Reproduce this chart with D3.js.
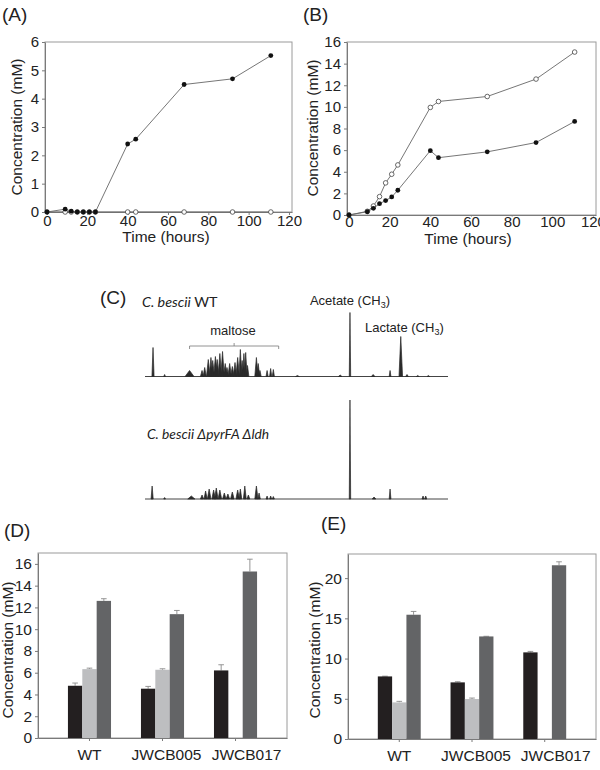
<!DOCTYPE html>
<html>
<head>
<meta charset="utf-8">
<title>C. bescii fermentation</title>
<script src="https://cdn.jsdelivr.net/npm/d3@7"></script>
<style>
body { margin: 0; background: #fff; }
text { font-family: "Liberation Sans", Arial, sans-serif; fill: #222; }
</style>
</head>
<body>
<div id="chart"></div>
<script>
// ---- panels A / B : time course ----
var times = [0, 9, 12, 15, 18, 21, 24, 40, 44, 68, 92, 111];       // hours
var filledA = [0, 0.1, 0.03, 0, 0, 0, 0, 2.4, 2.57, 4.5, 4.7, 5.52];
var openA   = [0, 0, 0, 0, 0, 0, 0, 0, 0, 0, 0, 0];
var filledB = [0, 0.3, 0.62, 1.05, 1.33, 1.67, 2.29, 5.95, 5.3, 5.84, 6.7, 8.65];
var openB   = [0, 0.34, 0.83, 1.7, 2.97, 3.77, 4.63, 9.95, 10.5, 10.96, 12.57, 15.07];
var timeTicks = [0, 20, 40, 60, 80, 100, 120];
var ticksA = [0, 1, 2, 3, 4, 5, 6];
var ticksB = [0, 2, 4, 6, 8, 10, 12, 14, 16];

// ---- panel C : NMR peaks [shift (ppm), height, half width (ppm)] ----
var peaksWT = [
	[4.11, 29, 0.012], [3.98, 2, 0.01], [3.70, 6, 0.05], [3.56, 6, 0.018], [3.53, 9, 0.018],
	[3.49, 17, 0.02], [3.46, 19, 0.02], [3.44, 16, 0.02], [3.41, 20, 0.02], [3.39, 17, 0.02],
	[3.36, 23, 0.02], [3.33, 25, 0.02], [3.30, 13, 0.02], [3.28, 9, 0.02], [3.25, 13, 0.02],
	[3.22, 10, 0.02], [3.19, 14, 0.02], [3.16, 19, 0.02], [3.13, 27, 0.016], [3.11, 16, 0.016],
	[3.09, 23, 0.016], [3.07, 24, 0.016], [3.05, 11, 0.016], [2.95, 19, 0.018], [2.93, 13, 0.018],
	[2.91, 6, 0.014], [2.83, 6, 0.012], [2.79, 8, 0.012], [2.76, 7, 0.012], [2.49, 1, 0.02],
	[2.01, 1.5, 0.02], [1.90, 64, 0.008], [1.64, 2, 0.02], [1.45, 6, 0.01], [1.33, 40, 0.02],
	[1.26, 2, 0.015], [1.14, 1, 0.015], [1.02, 1, 0.015]
];
var peaksMut = [
	[4.12, 13, 0.012], [3.98, 1.5, 0.01], [3.68, 3, 0.04], [3.56, 4, 0.018], [3.52, 8, 0.018],
	[3.48, 10, 0.02], [3.43, 9, 0.02], [3.40, 11, 0.02], [3.36, 9, 0.02], [3.31, 6, 0.02],
	[3.27, 5, 0.02], [3.22, 7, 0.02], [3.16, 9, 0.02], [3.13, 10, 0.016], [3.08, 13, 0.016],
	[3.04, 4, 0.016], [2.95, 13, 0.018], [2.92, 6, 0.014], [2.83, 3, 0.012], [2.79, 3, 0.012],
	[2.76, 2.5, 0.012], [1.90, 99, 0.008], [1.63, 2, 0.02], [1.45, 10, 0.01], [1.08, 3, 0.012],
	[1.05, 3, 0.012]
];

// ---- panels D / E : product bars ----
var strains = ["WT", "JWCB005", "JWCB017"];
var products = ["p1", "p2", "p3"];
var meanD = { p1: [4.8, 4.53, 6.21], p2: [6.33, 6.27, 0], p3: [12.6, 11.38, 15.3] };
var errD  = { p1: [0.25, 0.21, 0.52], p2: [0.09, 0.09, 0], p3: [0.2, 0.34, 1.13] };
var meanE = { p1: [7.78, 7.04, 10.77], p2: [4.55, 4.97, 0.05], p3: [15.45, 12.75, 21.6] };
var errE  = { p1: [0.03, 0.08, 0.12], p2: [0.13, 0.12, 0], p3: [0.41, 0.02, 0.43] };
var ticksD = [0, 2, 4, 6, 8, 10, 12, 14, 16];
var ticksE = [0, 5, 10, 15, 20];

var barColor = { p1: "#231f20", p2: "#bdbec0", p3: "#636466" };
var axisColor = "#7a7a7a";
var frameColor = "#9a9a9a";
var intFmt = d3.format("d");

var svg = d3.select("#chart").append("svg")
	.attr("width", 600)
	.attr("height", 770);
svg.append("rect").attr("width", 600).attr("height", 770).attr("fill", "#fff");

function styleAxis(g, size) {
	g.select(".domain").attr("stroke", axisColor);
	g.selectAll(".tick line").attr("stroke", axisColor);
	g.selectAll(".tick text").style("font-size", size + "px").attr("fill", "#222")
		.style("font-family", '"Liberation Sans", Arial, sans-serif');
}

function panelLabel(txt, x, y) {
	svg.append("text").attr("x", x).attr("y", y).style("font-size", "19px").text(txt);
}

function yLabel(x, y) {
	svg.append("text")
		.attr("transform", "translate(" + x + "," + y + ") rotate(-90)")
		.attr("text-anchor", "middle")
		.style("font-size", "15.5px")
		.text("Concentration (mM)");
}

// time course panels
function drawTimePanel(p) {
	var x = d3.scaleLinear().domain([-1, 121.5]).range([p.left, p.right]);
	var y = d3.scaleLinear().domain([0, p.ymax]).range([p.bottom, p.top]);
	var g = svg.append("g");

	g.append("rect")
		.attr("x", p.left).attr("y", p.top)
		.attr("width", p.right - p.left).attr("height", p.bottom - p.top)
		.attr("fill", "none").attr("stroke", frameColor);

	var xa = g.append("g").attr("transform", "translate(0," + p.bottom + ")")
		.call(d3.axisBottom(x).tickValues(timeTicks).tickFormat(intFmt)
			.tickSize(p.tick).tickPadding(0).tickSizeOuter(0));
	styleAxis(xa, 15);
	var ya = g.append("g").attr("transform", "translate(" + p.left + ",0)")
		.call(d3.axisLeft(y).tickValues(p.ticks).tickFormat(intFmt)
			.tickSize(3).tickPadding(3).tickSizeOuter(0));
	styleAxis(ya, 15);

	var line = d3.line()
		.x(function(d, i){ return x(times[i]); })
		.y(function(d){ return y(d); });

	[p.open, p.filled].forEach(function(s){
		g.append("path").attr("d", line(s)).attr("fill", "none")
			.attr("stroke", "#666").attr("stroke-width", 0.9);
	});
	g.selectAll(".open").data(p.open).enter().append("circle")
		.attr("cx", function(d, i){ return x(times[i]); })
		.attr("cy", function(d){ return y(d); })
		.attr("r", 2.3).attr("fill", "#fff").attr("stroke", "#444").attr("stroke-width", 0.8);
	g.selectAll(".filled").data(p.filled).enter().append("circle")
		.attr("cx", function(d, i){ return x(times[i]); })
		.attr("cy", function(d){ return y(d); })
		.attr("r", 2.4).attr("fill", "#111");

	g.append("text").attr("x", p.xlab).attr("y", p.xlabY).attr("text-anchor", "middle")
		.style("font-size", "15.5px").text("Time (hours)");
}

drawTimePanel({ left: 45, right: 292, top: 42, bottom: 212, ymax: 6, ticks: ticksA,
	open: openA, filled: filledA, xlab: 166, xlabY: 242, tick: 3 });
drawTimePanel({ left: 347, right: 596, top: 42, bottom: 215, ymax: 16, ticks: ticksB,
	open: openB, filled: filledB, xlab: 468, xlabY: 244, tick: 1.5 });
panelLabel("(A)", 2, 21);
panelLabel("(B)", 303, 21);
yLabel(22, 127);
yLabel(318, 128);

// NMR panel
var cx = d3.scaleLinear().domain([4.2, 0.8]).range([145, 448]);
var ci = d3.scaleLinear().domain([0, 100]).range([0, 100]);

function drawSpectrum(peaks, base) {
	var g = svg.append("g");
	g.append("line").attr("x1", cx(4.2)).attr("x2", cx(0.8))
		.attr("y1", base).attr("y2", base)
		.attr("stroke", "#444").attr("stroke-width", 1);
	g.selectAll("path").data(peaks).enter().append("path")
		.attr("d", function(d){
			return "M" + cx(d[0] + d[2]) + "," + base +
				"L" + cx(d[0]) + "," + (base - ci(d[1])) +
				"L" + cx(d[0] - d[2]) + "," + base + "Z";
		})
		.attr("fill", "#2a2a2a").attr("stroke", "#2a2a2a").attr("stroke-width", 0.7)
		.attr("stroke-linejoin", "round");
}
drawSpectrum(peaksWT, 376.5);
drawSpectrum(peaksMut, 499);

panelLabel("(C)", 100, 304);
var t1 = svg.append("text").attr("x", 142).attr("y", 306.5).style("font-size", "14.3px")
	.style("font-family", "Lato, sans-serif");
t1.append("tspan").style("font-style", "italic").style("font-family", "Lato, sans-serif").text("C. bescii");
t1.append("tspan").style("font-family", "Lato, sans-serif").text(" WT");

svg.append("text").attr("x", 147).attr("y", 439).style("font-size", "13.8px")
	.style("font-family", "Lato, sans-serif").style("font-style", "italic")
	.text("C. bescii \u0394pyrFA \u0394ldh");

function chemLabel(x, y, name, anchor) {
	var t = svg.append("text").attr("x", x).attr("y", y).attr("text-anchor", anchor)
		.style("font-size", "13px");
	t.append("tspan").text(name + " (CH");
	t.append("tspan").attr("dy", 3).style("font-size", "9px").text("3");
	t.append("tspan").attr("dy", -3).text(")");
}
chemLabel(cx(1.90), 305, "Acetate", "middle");
chemLabel(365, 332, "Lactate", "start");

svg.append("text").attr("x", 233).attr("y", 334.5).attr("text-anchor", "middle")
	.style("font-size", "13px").text("maltose");
svg.append("path")
	.attr("d", "M" + cx(3.70) + ",349 V346 H" + cx(2.70) + " V349 M" + cx(3.20) + ",346 V343")
	.attr("fill", "none").attr("stroke", "#777").attr("stroke-width", 0.8);

// bar panels
function drawBarPanel(p) {
	var x = d3.scaleBand().domain(strains).range([p.left, p.right])
		.paddingInner(0.41).paddingOuter(0.41);
	var xs = d3.scaleBand().domain(products).range([0, x.bandwidth()]);
	var y = d3.scaleLinear().domain([0, p.ymax]).range([p.bottom, p.top]);
	var g = svg.append("g");

	g.append("rect")
		.attr("x", p.left).attr("y", p.top)
		.attr("width", p.right - p.left).attr("height", p.bottom - p.top)
		.attr("fill", "none").attr("stroke", frameColor);

	var rows = [];
	strains.forEach(function(s, i){
		products.forEach(function(k){
			rows.push({ strain: s, prod: k, v: p.mean[k][i], e: p.err[k][i] });
		});
	});

	g.selectAll(".err").data(rows.filter(function(d){ return d.e > 0; })).enter().append("path")
		.attr("d", function(d){
			var xc = x(d.strain) + xs(d.prod) + xs.bandwidth() / 2;
			var yt = y(d.v + d.e);
			return "M" + xc + "," + y(d.v) + "V" + yt + "M" + (xc - 2.8) + "," + yt + "H" + (xc + 2.8);
		})
		.attr("stroke", "#8a8a8a").attr("stroke-width", 0.9).attr("fill", "none");

	g.selectAll(".bar").data(rows).enter().append("rect")
		.attr("x", function(d){ return x(d.strain) + xs(d.prod); })
		.attr("y", function(d){ return y(d.v); })
		.attr("width", xs.bandwidth())
		.attr("height", function(d){ return y(0) - y(d.v); })
		.attr("fill", function(d){ return barColor[d.prod]; });

	var xa = g.append("g").attr("transform", "translate(0," + p.bottom + ")")
		.call(d3.axisBottom(x).tickSize(3).tickPadding(8).tickSizeOuter(0));
	styleAxis(xa, 15.5);
	// category labels sit a little right of the bar groups in the original
	xa.selectAll(".tick text").attr("dx", function(d, i){ return p.labelShift[i]; });
	var ya = g.append("g").attr("transform", "translate(" + p.left + ",0)")
		.call(d3.axisLeft(y).tickValues(p.ticks).tickFormat(intFmt)
			.tickSize(3).tickPadding(3).tickSizeOuter(0));
	styleAxis(ya, 15.5);
}

drawBarPanel({ left: 38, right: 287, top: 553, bottom: 738, ymax: 17, ticks: ticksD,
	mean: meanD, err: errD, labelShift: [0, 4, 11] });
drawBarPanel({ left: 348, right: 596, top: 554, bottom: 739, ymax: 23, ticks: ticksE,
	mean: meanE, err: errE, labelShift: [0, 4, 11] });
panelLabel("(D)", 4, 537);
panelLabel("(E)", 321, 530);
yLabel(13, 650);
yLabel(320, 650);
</script>
</body>
</html>
